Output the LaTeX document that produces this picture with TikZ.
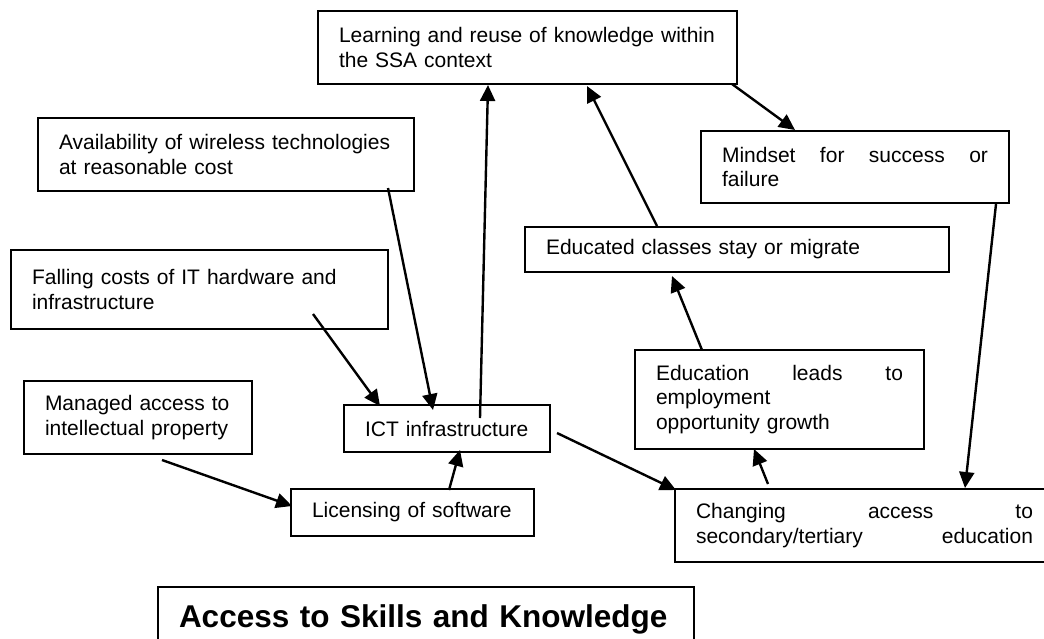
\documentclass[tikz,border=0pt]{standalone}
\usepackage{fontspec}
\setmainfont{Liberation Sans}
\usetikzlibrary{arrows.meta}
\begin{document}
\begin{tikzpicture}[x=1pt,y=-1pt,
  box/.style={draw, line width=2pt, anchor=north west, inner sep=0pt, align=left,
    font=\fontsize{21}{24.5}\selectfont},
  titlebox/.style={draw, line width=2pt, anchor=north west, inner xsep=0pt, inner ysep=17pt,
    align=left, text height=23pt, text depth=50pt,
    font=\bfseries\fontsize{31.5}{36}\selectfont},
  link/.style={line width=2.4pt, -{Triangle[length=16pt,width=15pt]}},
]
\useasboundingbox (0,0) rectangle (1044,638);
\clip (0,0) rectangle (1044,638);
\fill[white] (0,0) rectangle (1044,638);

% factor boxes
\node[box, minimum width=419pt, minimum height=73pt, text width=377pt] (learn) at (317,10)
  {Learning and reuse of knowledge within\\the SSA context};
\node[box, minimum width=376pt, minimum height=73pt, text width=334pt] (avail) at (37,117)
  {Availability of wireless technologies\\at reasonable cost};
\node[box, minimum width=377pt, minimum height=79pt, text width=335pt] (fall) at (10,249)
  {Falling costs of IT hardware and\\infrastructure};
\node[box, minimum width=228pt, minimum height=73pt, text width=186pt] (manag) at (23,380)
  {Managed access to\\intellectual property};
\node[box, minimum width=206pt, minimum height=47pt, text width=164pt] (ict) at (343,404)
  {ICT infrastructure};
\node[box, minimum width=243pt, minimum height=47pt, text width=201pt] (lic) at (290,488)
  {Licensing of software};
\node[box, minimum width=308pt, minimum height=72pt, text width=266pt] (mind) at (700,130)
  {\hbox to 266pt{Mindset\hfill for\hfill success\hfill or}\\failure};
\node[box, minimum width=424pt, minimum height=45pt, text width=382pt] (educ) at (524,226)
  {Educated classes stay or migrate};
\node[box, minimum width=289pt, minimum height=99pt, text width=247pt] (lead) at (634,349)
  {\hbox to 247pt{Education\hfill leads\hfill to}\\employment\\opportunity growth};
\node[box, minimum width=379pt, minimum height=73pt, text width=337pt] (chg) at (674,488)
  {\hbox to 337pt{Changing\hfill access\hfill to}\\\hbox to 337pt{secondary/tertiary\hfill education}};

% heading
\node[titlebox, minimum width=536pt, text width=494pt] (title) at (157,586)
  {Access to Skills and Knowledge};

% influences
\draw[link] ([shift={(137,14)}]ict.north west) -- ([shift={(171,0)}]learn.south west);
\draw[link] ([shift={(351,-4)}]avail.south west) -- ([shift={(90,6)}]ict.north west);
\draw[link] ([shift={(303,-16)}]fall.south west) -- ([shift={(37,2)}]ict.north west);
\draw[link] ([shift={(139,5)}]manag.south west) -- ([shift={(2,18)}]lic.north west);
\draw[link] ([shift={(159,2)}]lic.north west) -- ([shift={(117,-3)}]ict.south west);
\draw[link] ([shift={(6,29)}]ict.north east) -- ([shift={(2,2)}]chg.north west);
\draw[link] ([shift={(94,-4)}]chg.north west) -- ([shift={(120,-1)}]lead.south west);
\draw[link] ([shift={(68,1)}]lead.north west) -- ([shift={(148,3)}]educ.south west);
\draw[link] ([shift={(133,0)}]educ.north west) -- ([shift={(270,1)}]learn.south west);
\draw[link] ([shift={(-6,-1)}]learn.south east) -- ([shift={(95,0)}]mind.north west);
\draw[link] ([shift={(-14,0)}]mind.south east) -- ([shift={(291,0)}]chg.north west);
\end{tikzpicture}
\end{document}
